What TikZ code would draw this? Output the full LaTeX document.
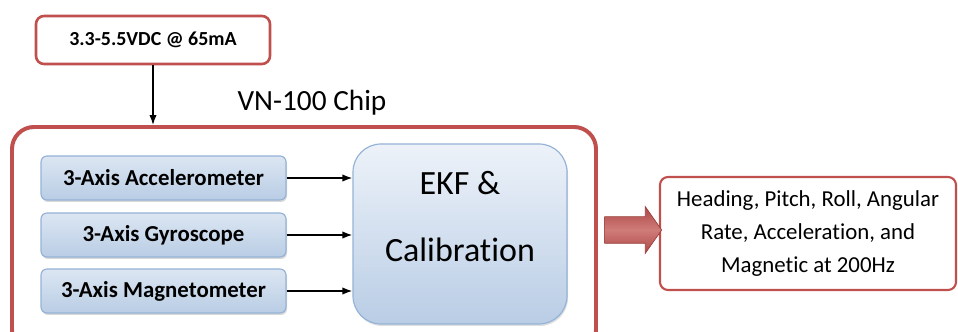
\documentclass[tikz,border=0pt]{standalone}
\usepackage{fontspec}
\setmainfont{Carlito}[Ligatures=NoCommon]
\definecolor{chipred}{HTML}{C0504D}
\definecolor{sensorline}{HTML}{95B3D7}
\definecolor{sensortop}{HTML}{DCE6F2}
\definecolor{sensorbottom}{HTML}{B9CDE5}
\definecolor{ekftop}{HTML}{EDF2F9}
\definecolor{ekfbottom}{HTML}{B9CDE5}
\usetikzlibrary{
  positioning, calc, shapes.arrows, shadows, arrows.meta
}
\tikzset{
	redbox/.style={
			shape=rectangle,
			draw=chipred,
			fill=white,
			line width=2.2pt,
			rounded corners=0.24cm,
			inner sep=0pt
		},
	sensornode/.style={
			shape=rectangle,
			draw=sensorline,
			line width=1pt,
			top color=sensortop,
			bottom color=sensorbottom,
			rounded corners=0.18cm,
			minimum width=7.35cm,
			minimum height=1.32cm,
			inner sep=0pt,
			drop shadow={shadow xshift=0.03cm, shadow yshift=-0.06cm, opacity=0.3, fill=gray},
			font=\fontsize{19.5}{23}\selectfont\bfseries
		},
	ekfnode/.style={
			shape=rectangle,
			draw=sensorline,
			line width=1pt,
			top color=ekftop,
			bottom color=ekfbottom,
			rounded corners=0.84cm,
			minimum width=6.42cm,
			minimum height=5.4cm,
			inner sep=0pt,
			drop shadow={shadow xshift=0.03cm, shadow yshift=-0.06cm, opacity=0.25, fill=gray}
		},
	bigtext/.style={font=\fontsize{29}{34}\selectfont, inner sep=0pt},
	sensorarrow/.style={line width=1.2pt, -{Latex[length=0.3cm, width=0.22cm]}}
}

\begin{document}
\begin{tikzpicture}

  \useasboundingbox (0,0) rectangle (28.74,9.96);
  \clip (0,0) rectangle (28.74,9.96);

  \node[redbox, minimum width=7.02cm, minimum height=1.44cm, font=\fontsize{17}{20}\selectfont\bfseries] (pwr) at (4.59,8.76) {3.3-5.5VDC @ 65mA};

  \node[redbox, line width=3.4pt, rounded corners=0.66cm, minimum width=17.52cm, minimum height=6.75cm] (chip) at (9.12,2.775) {};
  \node[font=\fontsize{25}{30}\selectfont, inner sep=0pt] (chiplabel) at (9.36,6.87) {VN-100 Chip};

  \draw[line width=1.2pt, -{Latex[length=0.3cm, width=0.22cm]}] (pwr.south) -- (pwr.south |- chip.north);

  \node[sensornode] (m1) at (4.905,4.62) {3-Axis Accelerometer};
  \node[sensornode] (m2) at (4.905,2.91) {3-Axis Gyroscope};
  \node[sensornode] (m3) at (4.905,1.23) {3-Axis Magnetometer};

  \node[ekfnode] (ekf) at (13.8,2.94) {};
  \node[bigtext] (ekf1) at (13.8,4.47) {EKF \&};
  \node[bigtext] (ekf2) at (13.8,2.46) {Calibration};

  \draw[sensorarrow] (m1.east) -- (m1.east -| ekf.west);
  \draw[sensorarrow] (m2.east) -- (m2.east -| ekf.west);
  \draw[sensorarrow] (m3.east) -- (m3.east -| ekf.west);

  \node[redbox, line width=1.8pt, minimum width=8.88cm, minimum height=3.39cm, align=center, font=\fontsize{19.5}{28.5}\selectfont] (out) at (24.24,2.955) {Heading, Pitch, Roll, Angular\\Rate, Acceleration, and\\Magnetic at 200Hz};

  \node[single arrow, draw=chipred!80!black, line width=0.6pt, top color=chipred!90!black, bottom color=chipred!90!black, middle color=chipred!75!white, minimum height=1.71cm, minimum width=1.38cm, single arrow head extend=0.3cm, single arrow tip angle=110, inner sep=0.39cm] (blk) at ($(chip.east |- 0,3.06)!0.5!(out.west |- 0,3.06)$) {};

\end{tikzpicture}
\end{document}
